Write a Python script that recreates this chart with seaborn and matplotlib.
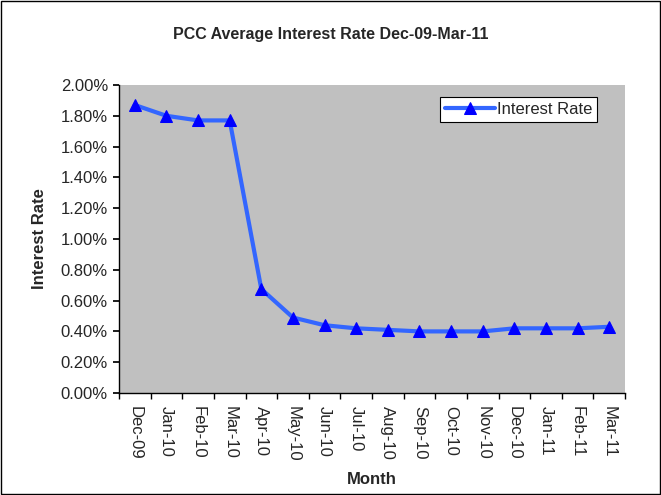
import seaborn as sns
import pandas as pd
import matplotlib.pyplot as plt
from matplotlib.patches import Rectangle
from matplotlib.ticker import FuncFormatter

# data
months = ["Dec-09", "Jan-10", "Feb-10", "Mar-10", "Apr-10", "May-10", "Jun-10", "Jul-10",
          "Aug-10", "Sep-10", "Oct-10", "Nov-10", "Dec-10", "Jan-11", "Feb-11", "Mar-11"]
rates = [1.87, 1.80, 1.77, 1.77, 0.675, 0.49, 0.44, 0.42,
         0.41, 0.40, 0.40, 0.40, 0.42, 0.42, 0.42, 0.43]

df = pd.DataFrame({"Month": months, "Interest Rate": rates})
df["pos"] = range(len(months))

sns.set_theme(style="white")
plt.rcParams["font.family"] = ["Liberation Sans", "DejaVu Sans"]

fig = plt.figure(figsize=(6.61, 4.95), dpi=100)
ax = fig.add_axes([119 / 661, 1 - 393 / 495, (625 - 119) / 661, (393 - 85) / 495])
ax.set_facecolor("#C0C0C0")

sns.lineplot(data=df, x="pos", y="Interest Rate", ax=ax, color="#3366FF", linewidth=3,
             marker="^", markersize=9, markerfacecolor="#0000FF", markeredgecolor="#0000FF",
             label="Interest Rate")

ax.set_xlim(-0.5, len(months) - 0.5)
ax.set_ylim(0, 2.0)
ax.set_yticks([i * 0.2 for i in range(11)])
ax.yaxis.set_major_formatter(FuncFormatter(lambda v, p: f"{v:.2f}%"))
ax.set_xticks(range(len(months)))
ax.set_xticklabels(months, rotation=-90, fontsize=12)
ax.set_xticks([i - 0.5 for i in range(len(months) + 1)], minor=True)
ax.tick_params(axis="x", which="major", length=0, pad=9)
ax.tick_params(axis="x", which="minor", length=4, color="black", direction="out")
ax.tick_params(axis="y", length=4, color="black", direction="out", labelsize=12, pad=4)
ax.xaxis.set_ticks_position("bottom")
ax.yaxis.set_ticks_position("left")
for s in ["top", "right"]:
    ax.spines[s].set_visible(False)
for s in ["left", "bottom"]:
    ax.spines[s].set_color("black")
    ax.spines[s].set_linewidth(1)

ax.set_xlabel("Month", fontsize=12, fontweight="bold", labelpad=8)
ax.set_ylabel("Interest Rate", fontsize=12, fontweight="bold", labelpad=10)
fig.text(0.5, 1 - 35 / 495, "PCC Average Interest Rate Dec-09-Mar-11",
         ha="center", va="center", fontsize=11.5, fontweight="bold")

leg = ax.legend(loc="upper right", bbox_to_anchor=(0.945, 0.961), borderaxespad=0,
                fontsize=12, fancybox=False, framealpha=1, edgecolor="black",
                borderpad=0.3, handlelength=3, handletextpad=0.1)
leg.get_frame().set_linewidth(0.8)

fig.patches.append(Rectangle((0.002, 0.002), 0.996, 0.996, transform=fig.transFigure,
                             fill=False, edgecolor="black", linewidth=1))

fig.savefig("out.png", dpi=100)
